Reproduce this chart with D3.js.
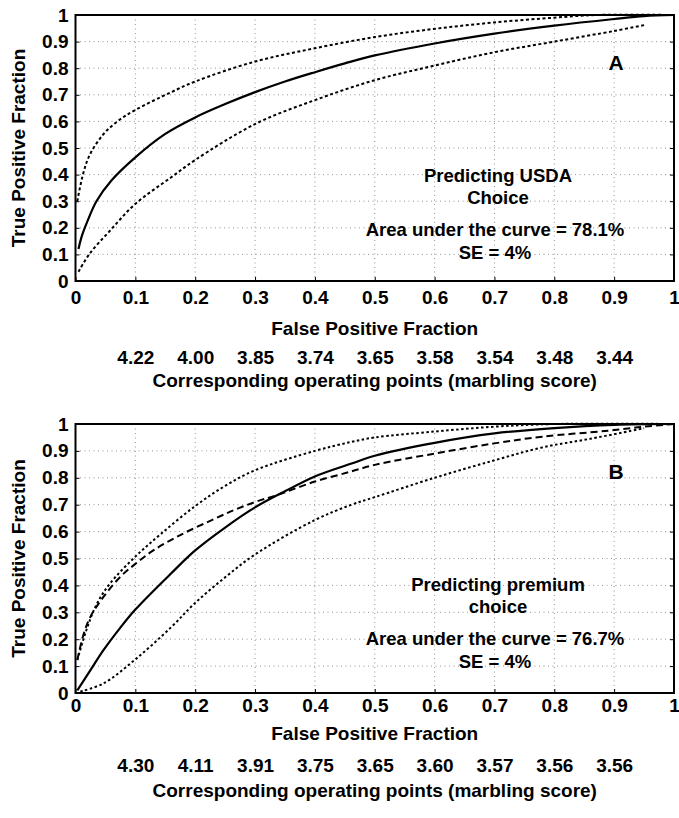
<!DOCTYPE html>
<html>
<head>
<meta charset="utf-8">
<script src="https://cdn.jsdelivr.net/npm/d3@7"></script>
<style>
  body { margin: 0; background: #fff; }
  text { font-family: "Liberation Sans", Arial, sans-serif; font-weight: bold; fill: #000; }
</style>
</head>
<body>
<svg id="chart"></svg>
<script>
const width = 679;
const height = 818;

// axis ticks
const fractionTicks = [0, 0.1, 0.2, 0.3, 0.4, 0.5, 0.6, 0.7, 0.8, 0.9, 1];
const operatingTicks = [0.1, 0.2, 0.3, 0.4, 0.5, 0.6, 0.7, 0.8, 0.9];

// panel A: USDA Choice
const marblingA = ["4.22", "4.00", "3.85", "3.74", "3.65", "3.58", "3.54", "3.48", "3.44"];
const rocA = [[0.005,0.12],[0.01,0.165],[0.02,0.225],[0.035,0.3],[0.06,0.378],[0.1,0.465],[0.15,0.553],[0.2,0.615],[0.25,0.665],[0.3,0.71],[0.35,0.75],[0.4,0.785],[0.45,0.818],[0.5,0.848],[0.6,0.893],[0.7,0.93],[0.8,0.96],[0.9,0.985],[0.95,0.996],[1,1]];
const upperA = [[0.003,0.3],[0.013,0.405],[0.024,0.475],[0.046,0.55],[0.07,0.6],[0.1,0.643],[0.16,0.71],[0.2,0.75],[0.3,0.825],[0.4,0.875],[0.5,0.917],[0.6,0.948],[0.7,0.972],[0.8,0.99],[0.87,1],[1,1]];
const lowerA = [[0.005,0.035],[0.024,0.104],[0.058,0.19],[0.1,0.29],[0.16,0.39],[0.2,0.455],[0.3,0.59],[0.4,0.68],[0.5,0.755],[0.6,0.81],[0.7,0.86],[0.8,0.9],[0.9,0.94],[0.95,0.962]];

// panel B: premium choice
const marblingB = ["4.30", "4.11", "3.91", "3.75", "3.65", "3.60", "3.57", "3.56", "3.56"];
const rocB = [[0.003,0.01],[0.025,0.085],[0.047,0.16],[0.075,0.243],[0.1,0.31],[0.16,0.445],[0.2,0.53],[0.25,0.615],[0.3,0.69],[0.35,0.75],[0.4,0.805],[0.46,0.852],[0.5,0.882],[0.6,0.93],[0.7,0.965],[0.8,0.985],[0.9,0.997],[1,1]];
const fitB = [[0.003,0.123],[0.014,0.222],[0.025,0.284],[0.047,0.358],[0.075,0.432],[0.1,0.48],[0.13,0.53],[0.175,0.587],[0.225,0.64],[0.265,0.68],[0.3,0.71],[0.337,0.736],[0.4,0.786],[0.46,0.823],[0.5,0.848],[0.6,0.89],[0.7,0.928],[0.78,0.953],[0.89,0.975],[0.95,0.99],[1,1]];
const upperB = [[0.003,0.123],[0.02,0.246],[0.036,0.333],[0.058,0.408],[0.1,0.507],[0.142,0.59],[0.2,0.695],[0.25,0.77],[0.3,0.828],[0.4,0.9],[0.46,0.933],[0.5,0.95],[0.6,0.972],[0.7,0.99],[0.8,1],[1,1]];
const lowerB = [[0.008,0.005],[0.047,0.036],[0.1,0.125],[0.16,0.245],[0.2,0.335],[0.25,0.43],[0.3,0.515],[0.4,0.643],[0.46,0.699],[0.5,0.728],[0.6,0.8],[0.7,0.865],[0.78,0.913],[0.86,0.945],[0.95,0.984]];

const svg = d3.select('#chart')
    .attr('width', width).attr('height', height);

svg.append('rect').attr('width', width).attr('height', height).attr('fill', '#fff');

const panels = [
    { top: 15, bottom: 281, letter: 'A', marbling: marblingA,
      pad: 10, titleDy: 54, markDy: 65, markTitleDy: 106,
      notes: ['Predicting USDA', 'Choice'], area: 'Area under the curve = 78.1%',
      lines: [{ d: upperA, dash: '3,2.5' }, { d: lowerA, dash: '3,2.5' }, { d: rocA, dash: null }] },
    { top: 424, bottom: 693, letter: 'B', marbling: marblingB,
      pad: 6, titleDy: 47, markDy: 61, markTitleDy: 104,
      notes: ['Predicting premium', 'choice'], area: 'Area under the curve = 76.7%',
      lines: [{ d: upperB, dash: '2.5,2.5' }, { d: lowerB, dash: '2.5,2.5' }, { d: fitB, dash: '7,4' }, { d: rocB, dash: null }] }
];

const left = 75.5;
const right = 674;

panels.forEach(p => drawPanel(p));

function drawPanel(p) {
    const x = d3.scaleLinear().domain([0, 1]).range([left, right]);
    const y = d3.scaleLinear().domain([0, 1]).range([p.bottom, p.top]);
    const g = svg.append('g');

    // grid
    g.append('g').selectAll('line.gx')
        .data(fractionTicks.slice(1, -1))
        .enter().append('line')
        .attr('x1', d => x(d)).attr('x2', d => x(d))
        .attr('y1', p.top).attr('y2', p.bottom)
        .style('stroke', '#777').style('stroke-width', 0.8)
        .style('stroke-dasharray', '1,3.5');
    g.append('g').selectAll('line.gy')
        .data(fractionTicks.slice(1, -1))
        .enter().append('line')
        .attr('y1', d => y(d)).attr('y2', d => y(d))
        .attr('x1', left).attr('x2', right)
        .style('stroke', '#777').style('stroke-width', 0.8)
        .style('stroke-dasharray', '1,3.5');

    // curves
    const line = d3.line()
        .x(d => x(d[0])).y(d => y(d[1]))
        .curve(d3.curveCatmullRom.alpha(0.5));
    p.lines.forEach(l => {
        g.append('path')
            .datum(l.d)
            .attr('d', line)
            .style('fill', 'none')
            .style('stroke', '#000')
            .style('stroke-width', l.dash ? 2 : 2.2)
            .style('stroke-dasharray', l.dash);
    });

    // frame
    g.append('rect')
        .attr('x', left).attr('y', p.top)
        .attr('width', right - left).attr('height', p.bottom - p.top)
        .style('fill', 'none').style('stroke', '#000').style('stroke-width', 2);

    const fmt = d => (d === 0 || d === 1) ? String(d) : d.toFixed(1);

    // axes
    const yAxis = g.append('g')
        .attr('transform', `translate(${left},0)`)
        .call(d3.axisLeft(y).tickValues(fractionTicks).tickFormat(fmt).tickSize(-4).tickPadding(7));
    const xAxis = g.append('g')
        .attr('transform', `translate(0,${p.bottom})`)
        .call(d3.axisBottom(x).tickValues(fractionTicks).tickFormat(fmt).tickSize(-4).tickPadding(p.pad));
    g.append('g')
        .attr('transform', `translate(${right},0)`)
        .call(d3.axisRight(y).tickValues(fractionTicks).tickFormat('').tickSize(-4));
    [yAxis, xAxis].forEach(a => {
        a.select('.domain').remove();
        a.selectAll('text').style('font-size', '19px');
    });
    g.selectAll('.tick line').style('stroke', '#000');

    // marbling score axis
    const mAxis = g.append('g')
        .attr('transform', `translate(0,${p.bottom + p.markDy})`)
        .call(d3.axisBottom(x).tickValues(operatingTicks).tickFormat((d, i) => p.marbling[i]).tickSize(0).tickPadding(0));
    mAxis.select('.domain').remove();
    mAxis.selectAll('text').style('font-size', '19px').attr('dy', 0).attr('y', 18);

    // axis titles
    g.append('text')
        .attr('x', (left + right) / 2).attr('y', p.bottom + p.titleDy)
        .attr('text-anchor', 'middle').style('font-size', '19px')
        .text('False Positive Fraction');
    g.append('text')
        .attr('x', (left + right) / 2).attr('y', p.bottom + p.markTitleDy)
        .attr('text-anchor', 'middle').style('font-size', '19px')
        .text('Corresponding operating points (marbling score)');
    g.append('text')
        .attr('transform', `translate(25,${(p.top + p.bottom) / 2}) rotate(-90)`)
        .attr('text-anchor', 'middle').style('font-size', '19px')
        .text('True Positive Fraction');

    // annotations
    g.append('text')
        .attr('x', 616).attr('y', p.top + 55)
        .attr('text-anchor', 'middle').style('font-size', '21px')
        .text(p.letter);
    g.append('text')
        .attr('x', 498).attr('y', p.top + 167)
        .attr('text-anchor', 'middle').style('font-size', '18.5px')
        .text(p.notes[0]);
    g.append('text')
        .attr('x', 498).attr('y', p.top + 189)
        .attr('text-anchor', 'middle').style('font-size', '18.5px')
        .text(p.notes[1]);
    g.append('text')
        .attr('x', 495).attr('y', p.top + 221)
        .attr('text-anchor', 'middle').style('font-size', '18.5px')
        .text(p.area);
    g.append('text')
        .attr('x', 495).attr('y', p.top + 244)
        .attr('text-anchor', 'middle').style('font-size', '18.5px')
        .text('SE = 4%');
}
</script>
</body>
</html>
